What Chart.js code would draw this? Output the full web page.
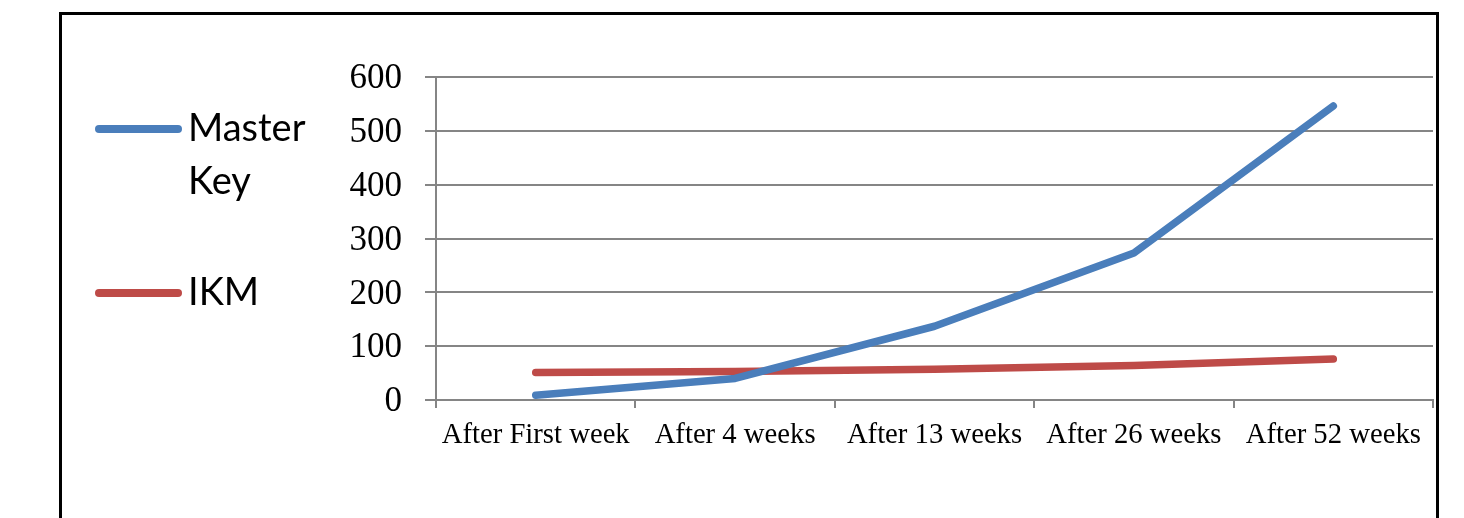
<!DOCTYPE html>
<html>
<head>
<meta charset="utf-8">
<script src="https://cdn.jsdelivr.net/npm/chart.js@4"></script>
<style>
  html, body { margin: 0; padding: 0; background: #fff; }
  #wrap { position: relative; width: 1464px; height: 518px; overflow: hidden; }
  #frame { position: absolute; left: 59px; top: 12px; width: 1380px; height: 540px; border: 3px solid #000; box-sizing: border-box; pointer-events: none; }
  #legend { position: absolute; left: 0; top: 0; }
  .item { position: absolute; left: 95px; }
  .swatch { position: absolute; left: 0; width: 87px; height: 8px; border-radius: 4px; }
  .label { position: absolute; left: 93px; font-family: Lato, "Open Sans", sans-serif; font-size: 38px; line-height: 53px; color: #000; white-space: nowrap; }
</style>
</head>
<body>
<div id="wrap">
  <canvas id="c" width="1464" height="518"></canvas>
  <div id="legend"></div>
  <div id="frame"></div>
</div>
<script>
const categories = ['After First week', 'After 4 weeks', 'After 13 weeks', 'After 26 weeks', 'After 52 weeks'];
const masterKey = [9, 40, 137, 273, 546];
const ikm = [51, 53, 57, 64, 76];
const seriesNames = [['Master', 'Key'], ['IKM']];
const seriesColors = ['#4A7EBB', '#BE4B48'];
const yTicks = [0, 100, 200, 300, 400, 500, 600];

// HTML legend built from the series
const legendEl = document.getElementById('legend');
const legendTops = [129, 293];
seriesNames.forEach((lines, i) => {
  const item = document.createElement('div');
  item.className = 'item';
  item.style.top = legendTops[i] + 'px';
  const sw = document.createElement('div');
  sw.className = 'swatch';
  sw.style.background = seriesColors[i];
  sw.style.top = '-4px';
  item.appendChild(sw);
  const lb = document.createElement('div');
  lb.className = 'label';
  lb.style.top = '-29px';
  lb.innerHTML = lines.join('<br>');
  item.appendChild(lb);
  legendEl.appendChild(item);
});

new Chart(document.getElementById('c'), {
  type: 'line',
  data: {
    labels: categories,
    datasets: [
      { label: seriesNames[0].join(' '), data: masterKey, borderColor: seriesColors[0], backgroundColor: seriesColors[0],
        borderWidth: 7.5, pointRadius: 0, tension: 0, borderCapStyle: 'round', borderJoinStyle: 'round' },
      { label: seriesNames[1].join(' '), data: ikm, borderColor: seriesColors[1], backgroundColor: seriesColors[1],
        borderWidth: 7.5, pointRadius: 0, tension: 0, borderCapStyle: 'round', borderJoinStyle: 'round' }
    ]
  },
  options: {
    responsive: false,
    animation: false,
    devicePixelRatio: 1,
    layout: { padding: { left: 0, right: 31, top: 77, bottom: 0 } },
    plugins: { legend: { display: false }, tooltip: { enabled: false } },
    scales: {
      x: {
        offset: true,
        grid: { display: true, drawOnChartArea: false, drawTicks: true, tickLength: 8, color: '#858585', lineWidth: 2, offset: true },
        border: { display: true, color: '#858585', width: 2 },
        ticks: { color: '#000', font: { family: '"Liberation Serif", "Times New Roman", serif', size: 28.7 }, padding: 10, maxRotation: 0, autoSkip: false },
        afterFit(scale) { scale.height = 118; }
      },
      y: {
        min: 0, max: 600,
        afterBuildTicks(scale) { scale.ticks = yTicks.map(v => ({ value: v })); },
        grid: { color: '#858585', lineWidth: 2, drawTicks: true, tickLength: 11, },
        border: { display: true, color: '#858585', width: 2 },
        ticks: { color: '#000', font: { family: '"Liberation Serif", "Times New Roman", serif', size: 35 }, padding: 23, labelOffset: 2 },
        afterFit(scale) { scale.width = 436; }
      }
    }
  }
});
</script>
</body>
</html>
